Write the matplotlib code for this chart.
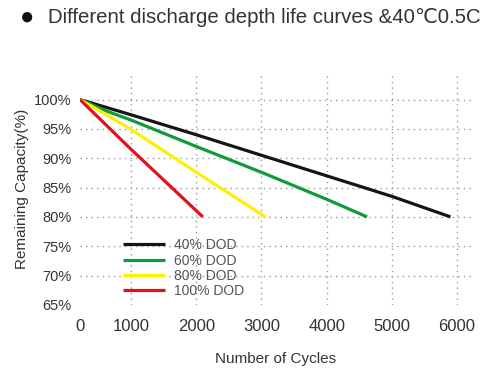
import numpy as np
import matplotlib
matplotlib.use("Agg")
import matplotlib.pyplot as plt

plt.rcParams['font.family'] = ['Liberation Sans', 'DejaVu Sans']

# Data
cycles_40 = [0, 500, 1000, 2000, 3000, 4000, 5000, 5900]
cap_40 = [100, 98.7, 97.4, 94.0, 90.5, 87.0, 83.5, 80.0]

cycles_60 = [0, 500, 1000, 2000, 3000, 4000, 4620]
cap_60 = [100, 98.1, 96.5, 92.0, 87.6, 83.0, 80.0]

cycles_80 = [0, 500, 1000, 2000, 3060]
cap_80 = [100, 97.5, 94.9, 87.6, 80.0]

cycles_100 = [0, 1000, 2100]
cap_100 = [100, 91.5, 80.0]

labels = ["40% DOD", "60% DOD", "80% DOD", "100% DOD"]
colors = ["#151515", "#109a3e", "#fff000", "#e3101f"]

x_ticks = [0, 1000, 2000, 3000, 4000, 5000, 6000]
y_ticks = [65, 70, 75, 80, 85, 90, 95, 100]


# the original axis squeezes the first 1000 cycles
def fwd(x):
    x = np.asarray(x, dtype=float)
    return np.where(x < 1000, x * 0.785, x - 215)


def inv(y):
    y = np.asarray(y, dtype=float)
    return np.where(y < 785, y / 0.785, y + 215)


fig = plt.figure(figsize=(5, 3.75), dpi=100)
ax = fig.add_axes([0.16, 0.187, 0.784, 0.621])
ax.set_xscale('function', functions=(fwd, inv))

series = [(cycles_40, cap_40), (cycles_60, cap_60), (cycles_80, cap_80), (cycles_100, cap_100)]
for (xs, ys), lab, col in zip(series, labels, colors):
    ax.plot(xs, ys, color=col, lw=2.3, label=lab, solid_capstyle='butt')

ax.set_xlim(0, 6230)
ax.set_ylim(65, 104.7)
ax.set_xticks(x_ticks)
ax.set_yticks(y_ticks)
ax.set_xticklabels([str(v) for v in x_ticks], fontsize=12, color='#333333')
ax.set_yticklabels([f"{v}%" for v in y_ticks], fontsize=10.5, color='#333333')
ax.tick_params(length=0, pad=6)
ax.tick_params(axis='x', pad=10)

for s in ax.spines.values():
    s.set_visible(False)

ax.grid(True, ls=(0, (1, 3)), color='#999999', lw=1)
ax.yaxis.get_gridlines()[0].set_visible(False)
ax.xaxis.get_gridlines()[0].set_visible(False)
ax.set_axisbelow(True)

ax.set_xlabel("Number of Cycles", fontsize=11, color='#333333', labelpad=13)
ax.set_ylabel("Remaining Capacity(%)", fontsize=11, color='#333333', labelpad=4)

leg = ax.legend(loc='upper left', bbox_to_anchor=(0.246, 0.365), bbox_transform=fig.transFigure,
                frameon=False, fontsize=10, handlelength=3.0, handletextpad=0.7,
                labelspacing=0.1, borderpad=0, borderaxespad=0)
for t in leg.get_texts():
    t.set_color('#555555')

fig.text(0.055, 0.953, "\u25cf", fontsize=17, color='#111111', va='center', ha='center')
fig.text(0.096, 0.953, "Different discharge depth life curves &40\u21030.5C", fontsize=14.7,
         color='#333333', va='center', ha='left')

fig.savefig("out.png", dpi=100)
